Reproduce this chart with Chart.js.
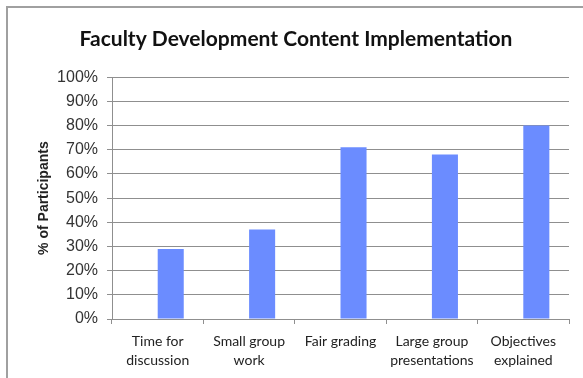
<!DOCTYPE html>
<html>
<head>
<meta charset="utf-8">
<script src="https://cdn.jsdelivr.net/npm/chart.js@4"></script>
<style>
  html, body { margin: 0; padding: 0; background: #fff; overflow: hidden; }
  #frame { position: absolute; left: 6px; top: 6px; width: 700px; height: 500px; border: 2px solid #a0a0a0; }
  #wrap { position: absolute; left: 0; top: 0; width: 583px; height: 378px; }
</style>
</head>
<body>
<div id="frame"></div>
<div id="wrap"><canvas id="chart" width="583" height="378"></canvas></div>
<script>
// --- DATA ---
const categories = [
    ['Time for', 'discussion'],
    ['Small group', 'work'],
    ['Fair grading'],
    ['Large group', 'presentations'],
    ['Objectives', 'explained']
];
const participantPct = [29, 37, 71, 68, 80];
const spacer = [null, null, null, null, null]; // empty slot, pushes bars right like the original
const yTicks = [0, 10, 20, 30, 40, 50, 60, 70, 80, 90, 100];

const BAR_COLOR = '#6b8cff';
const GRID_COLOR = '#8f8f8f';
const LABEL_FONT = "'Liberation Sans', Arial, sans-serif";
const CAL_FONT = "Lato, 'Open Sans', sans-serif";

const ctx = document.getElementById('chart').getContext('2d');
new Chart(ctx, {
    type: 'bar',
    data: {
        labels: categories,
        datasets: [
            { label: '', data: spacer, backgroundColor: 'rgba(0,0,0,0)' },
            { label: '% of Participants', data: participantPct, backgroundColor: BAR_COLOR }
        ]
    },
    options: {
        responsive: false,
        animation: false,
        categoryPercentage: 0.57,
        barPercentage: 1,
        layout: { padding: { left: 23, right: 14, top: 0, bottom: 0 } },
        plugins: {
            legend: { display: false },
            tooltip: { enabled: false },
            title: {
                display: true,
                text: 'Faculty Development Content Implementation',
                color: '#111',
                font: { family: CAL_FONT, size: 21, weight: 'bold', lineHeight: 1.2 },
                padding: { top: 27, bottom: 25 }
            }
        },
        scales: {
            x: {
                afterFit: (scale) => { scale.height = 59; },
                grid: { display: true, drawOnChartArea: false, drawTicks: true, tickLength: 5, color: GRID_COLOR, offset: true },
                border: { color: GRID_COLOR, width: 1 },
                ticks: { color: '#222', padding: 8, maxRotation: 0, autoSkip: false, font: { family: CAL_FONT, size: 14, lineHeight: 1.36 } }
            },
            y: {
                min: 0,
                max: 100,
                afterFit: (scale) => { scale.width = 89; },
                afterBuildTicks: (scale) => { scale.ticks = yTicks.map(v => ({ value: v })); },
                grid: { color: GRID_COLOR, lineWidth: 1, tickLength: 5 },
                border: { color: GRID_COLOR, width: 1 },
                ticks: { color: '#333', padding: 9, font: { family: LABEL_FONT, size: 16 }, callback: (v) => v + '%' },
                title: {
                    display: true,
                    text: '% of Participants',
                    color: '#222',
                    font: { family: LABEL_FONT, size: 14, weight: 'bold' },
                    padding: { top: 13, bottom: 0 }
                }
            }
        }
    }
});
</script>
</body>
</html>
